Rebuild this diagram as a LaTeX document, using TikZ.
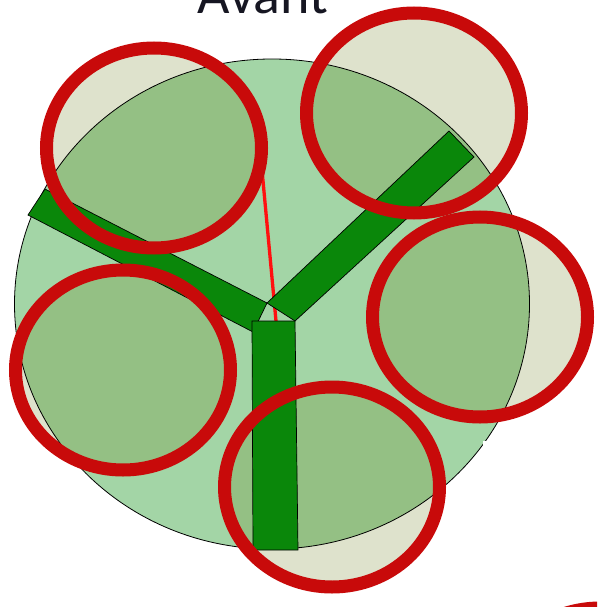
\documentclass[tikz,border=0pt]{standalone}
\usepackage{fontspec}
\setmainfont{Carlito}
\usetikzlibrary{calc}
\definecolor{discmint}{HTML}{A3D5A6}
\definecolor{barleaf}{HTML}{0A870A}
\definecolor{ringred}{HTML}{C80A0A}
\definecolor{ringtint}{RGB}{90,110,0}
\definecolor{wirered}{HTML}{FF1010}
\definecolor{titleink}{HTML}{161622}

\begin{document}
\begin{tikzpicture}[x=1pt, y=-1pt,
  disc/.style={fill=discmint},
  discline/.style={draw=black, line width=0.8pt},
  ringfill/.style={fill=ringtint, fill opacity=0.2},
  ringline/.style={draw=ringred, line width=13pt},
  bar/.style={fill=barleaf, draw=black, line width=0.7pt, line join=miter},
  wire/.style={draw=wirered, line width=3.3pt}]
  \useasboundingbox (0,0) rectangle (597,607);
  \clip (0,0) rectangle (597,607);

  % centres
  \coordinate (disc) at (272,304);
  \coordinate (ring-nw) at (154,148);
  \coordinate (ring-ne) at (414,113);
  \coordinate (ring-e) at (480,317);
  \coordinate (ring-sw) at (123,370);
  \coordinate (ring-s) at (332,487);
  \coordinate (ring-se) at (600,708);
  \coordinate (hub) at (267,303);
  \coordinate (wire-top) at (262,170);
  \coordinate (wire-end) at (276,321);

  % big disc and the tinted rings under the bars
  \path[disc] (disc) ellipse [x radius=257.5pt, y radius=245pt];
  \foreach \r in {nw,ne,e,sw,s,se}
    \path[ringfill] (ring-\r) ellipse [x radius=107.5pt, y radius=100pt];
  \path[discline] (disc) ellipse [x radius=257.5pt, y radius=245pt];
  \fill[white] (483,441) rectangle (498,448);

  % red line, then the three bars
  \draw[wire] (wire-top) -- (wire-end);
  \draw[bar] (45,189) -- (hub) -- (253,332) -- (28,215) -- cycle;
  \draw[bar] (hub) -- (449,131) -- (474,157) -- (295,321) -- cycle;
  \draw[bar] (252,321) -- (295,321) -- (298,550) -- (253,550) -- cycle;

  % ring outlines on top
  \foreach \r in {nw,ne,e,sw,s,se}
    \path[ringline] (ring-\r) ellipse [x radius=107.5pt, y radius=100pt];

  \node[font=\fontsize{56}{60}\selectfont, text=titleink, anchor=base, inner sep=0pt]
    (title) at (263,14) {Avant};
\end{tikzpicture}
\end{document}
